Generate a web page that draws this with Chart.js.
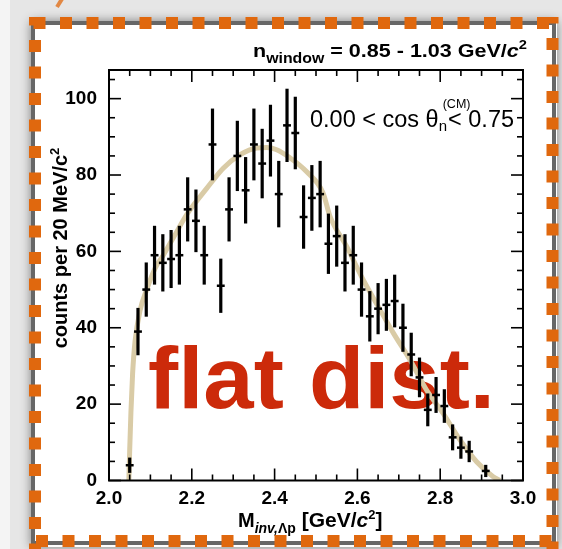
<!DOCTYPE html>
<html>
<head>
<meta charset="utf-8">
<script src="https://cdn.jsdelivr.net/npm/chart.js@4/dist/chart.umd.min.js"></script>
<style>
  html, body { margin: 0; padding: 0; background: #e8e8e8; overflow: hidden; }
  #wrap { position: relative; width: 562px; height: 549px; }
  canvas { display: block; }
</style>
</head>
<body>
<div id="wrap"><canvas id="chart" width="562" height="549"></canvas></div>
<script>
// Λp invariant-mass spectrum, 20 MeV/c^2 bins (bin centres in GeV/c^2)
const massBins = [2.05, 2.07, 2.09, 2.11, 2.13, 2.15, 2.17, 2.19, 2.21, 2.23,
                  2.25, 2.27, 2.29, 2.31, 2.33, 2.35, 2.37, 2.39, 2.41, 2.43,
                  2.45, 2.47, 2.49, 2.51, 2.53, 2.55, 2.57, 2.59, 2.61, 2.63,
                  2.65, 2.67, 2.69, 2.71, 2.73, 2.75, 2.77, 2.79, 2.81, 2.83,
                  2.85, 2.87, 2.91];
const counts = [4, 39, 50, 59, 57, 58, 59, 71, 68, 59,
                88, 51, 71, 85, 76, 88, 83, 89, 75, 93,
                91, 69, 74, 75, 62, 64, 57, 59, 50, 43,
                45, 46, 47, 40, 33, 27, 18.5, 22.4, 19.5, 11.3,
                8.6, 7.6, 2.5];
const countErrors = [2.0, 6.2, 7.1, 7.7, 7.5, 7.6, 7.7, 8.4, 8.2, 7.7,
                     9.4, 7.1, 8.4, 9.2, 8.7, 9.4, 9.1, 9.4, 8.7, 9.6,
                     9.5, 8.3, 8.6, 8.7, 7.9, 8.0, 7.5, 7.7, 7.1, 6.6,
                     6.7, 6.8, 6.9, 6.3, 5.7, 5.2, 4.3, 4.7, 4.4, 3.4,
                     2.9, 2.8, 1.6];
const binHalfWidth = 0.0095;

// flat (phase-space) distribution
const phaseSpaceMass = [2.048, 2.050, 2.053, 2.057, 2.063, 2.075, 2.091, 2.111, 2.131, 2.155,
                        2.190, 2.236, 2.276, 2.316, 2.357, 2.381, 2.405, 2.437, 2.477, 2.517,
                        2.534, 2.574, 2.610, 2.650, 2.687, 2.727, 2.767, 2.807, 2.848, 2.888,
                        2.928, 2.944];
const phaseSpaceCounts = [0, 8, 18, 28, 36.5, 44.5, 50, 55.5, 59, 63.5,
                          70, 76.5, 81.8, 85.3, 87.1, 87.2, 86.6, 84.5, 80.9, 75.3,
                          69.1, 61.3, 53.4, 45.6, 38.6, 31.6, 23.7, 17.6, 10.6, 4.9,
                          1.0, 0];

const xTickValues = [2.0, 2.2, 2.4, 2.6, 2.8, 3.0];
const xTickLabels = ['2.0', '2.2', '2.4', '2.6', '2.8', '3.0'];
const yTickValues = [0, 20, 40, 60, 80, 100];
const yTickLabels = ['0', '20', '40', '60', '80', '100'];
const xRange = [2.0, 3.0];
const yRange = [0, 107.5];
const xMinorStep = 0.05;
const yMinorStep = 5;

const FONT = '"Liberation Sans", Arial, Helvetica, sans-serif';
const ORANGE = '#e0680e';

// draws a run of text pieces (each with its own font / vertical shift)
function richWidth(ctx, parts) {
  let w = 0;
  for (const p of parts) {
    ctx.font = p.font;
    w += ctx.measureText(p.t).width;
  }
  return w;
}
function drawRich(ctx, parts, x, y) {
  let cx = x;
  for (const p of parts) {
    ctx.font = p.font;
    ctx.fillText(p.t, cx, y + (p.dy || 0));
    cx += ctx.measureText(p.t).width;
  }
  return cx;
}
function seg(ctx, x1, y1, x2, y2) {
  ctx.beginPath(); ctx.moveTo(x1, y1); ctx.lineTo(x2, y2); ctx.stroke();
}

const slidePlugin = {
  id: 'slide',
  beforeDraw(chart) {
    const ctx = chart.ctx, W = chart.width, H = chart.height;
    ctx.save();
    ctx.fillStyle = '#e6e6e6';
    ctx.fillRect(0, 0, W, H);
    ctx.fillStyle = '#f4f4f4';
    ctx.fillRect(0, 0, 10, H);
    // white panel with soft shadow
    ctx.shadowColor = 'rgba(0,0,0,0.45)';
    ctx.shadowBlur = 10;
    ctx.fillStyle = '#ffffff';
    ctx.fillRect(31, 21, 526, 526);
    ctx.shadowColor = 'transparent';
    ctx.shadowBlur = 0;
    ctx.strokeStyle = '#676767';
    ctx.lineWidth = 4;
    ctx.strokeRect(33, 23, 521, 520);
    // small stroke peeking in at the top
    ctx.strokeStyle = 'rgba(224,104,14,0.75)';
    ctx.lineWidth = 4;
    seg(ctx, 62, -1, 57, 7);
    ctx.restore();
  },
  beforeDatasetsDraw(chart) {
    const ctx = chart.ctx;
    ctx.save();
    ctx.fillStyle = '#cc2a0a';
    ctx.font = 'bold 88px ' + FONT;
    const txt = 'flat dist.';
    const w = ctx.measureText(txt).width;
    const target = 347;
    ctx.translate(321.5, 408);
    ctx.scale(target / w, 1);
    ctx.textAlign = 'center';
    ctx.textBaseline = 'alphabetic';
    ctx.fillText(txt, 0, 0);
    ctx.restore();
  },
  afterDatasetsDraw(chart) {
    // error bars for the measured spectrum
    const ctx = chart.ctx;
    const xs = chart.scales.x, ys = chart.scales.y;
    const meta = chart.getDatasetMeta(1);
    ctx.save();
    ctx.strokeStyle = '#000';
    ctx.lineCap = 'butt';
    meta.data.forEach((pt, i) => {
      const v = counts[i], e = countErrors[i];
      const top = ys.getPixelForValue(v + e);
      const bot = ys.getPixelForValue(Math.max(0, v - e));
      ctx.lineWidth = 3.2;
      seg(ctx, pt.x, top, pt.x, bot);
      ctx.lineWidth = 2.5;
      seg(ctx, xs.getPixelForValue(massBins[i] - binHalfWidth), pt.y,
               xs.getPixelForValue(massBins[i] + binHalfWidth), pt.y);
    });
    ctx.restore();
  },
  afterDraw(chart) {
    const ctx = chart.ctx;
    const a = chart.chartArea;
    const xs = chart.scales.x, ys = chart.scales.y;
    ctx.save();
    // frame
    ctx.strokeStyle = '#000';
    ctx.lineWidth = 2;
    ctx.strokeRect(a.left, a.top, a.right - a.left, a.bottom - a.top);
    // inward ticks on all four sides
    ctx.lineWidth = 1.6;
    const nx = Math.round((xRange[1] - xRange[0]) / xMinorStep);
    for (let k = 0; k <= nx; k++) {
      const v = xRange[0] + k * xMinorStep;
      const major = xTickValues.some(t => Math.abs(t - v) < 1e-6);
      const len = major ? 12 : 6;
      const px = xs.getPixelForValue(v);
      seg(ctx, px, a.bottom, px, a.bottom - len);
      seg(ctx, px, a.top, px, a.top + len);
    }
    const ny = Math.floor((yRange[1] - yRange[0]) / yMinorStep);
    for (let k = 0; k <= ny; k++) {
      const v = yRange[0] + k * yMinorStep;
      const major = yTickValues.some(t => Math.abs(t - v) < 1e-6);
      const len = major ? 12 : 6;
      const py = ys.getPixelForValue(v);
      seg(ctx, a.left, py, a.left + len, py);
      seg(ctx, a.right, py, a.right - len, py);
    }

    ctx.fillStyle = '#000';
    ctx.textBaseline = 'alphabetic';
    ctx.textAlign = 'left';

    // neutron window label above the frame
    const topParts = [
      { t: 'n', font: 'bold 19px ' + FONT },
      { t: 'window', font: 'bold 14px ' + FONT, dy: 6 },
      { t: ' = 0.85 - 1.03 GeV/', font: 'bold 19px ' + FONT },
      { t: 'c', font: 'italic bold 19px ' + FONT },
      { t: '2', font: 'bold 13px ' + FONT, dy: -8 }
    ];
    const tw = richWidth(ctx, topParts);
    ctx.save();
    ctx.translate(253, 57);
    ctx.scale(274 / tw, 1);
    drawRich(ctx, topParts, 0, 0);
    ctx.restore();

    // angular cut label inside the frame
    const x0 = 310, y0 = 127;
    let cx = drawRich(ctx, [{ t: '0.00 < cos \u03B8', font: '23.5px ' + FONT }], x0, y0);
    ctx.font = '15px ' + FONT;
    ctx.fillText('n', cx, y0 + 4);
    ctx.font = '12.5px ' + FONT;
    ctx.fillText('(CM)', cx + 4, y0 - 19);
    ctx.font = '15px ' + FONT;
    cx += ctx.measureText('n').width + 1;
    drawRich(ctx, [{ t: '< 0.75', font: '23.5px ' + FONT }], cx, y0);

    // y-axis title
    const yParts = [
      { t: 'counts per 20 MeV/c', font: 'bold 20px ' + FONT },
      { t: '2', font: 'bold 13px ' + FONT, dy: -8 }
    ];
    const yw = richWidth(ctx, yParts);
    ctx.save();
    ctx.translate(67, 248 + yw / 2);
    ctx.rotate(-Math.PI / 2);
    drawRich(ctx, yParts, 0, 0);
    ctx.restore();

    // x-axis title
    const xParts = [
      { t: 'M', font: 'bold 20px ' + FONT },
      { t: 'inv,', font: 'italic bold 14px ' + FONT, dy: 6 },
      { t: '\u039Bp', font: 'bold 14px ' + FONT, dy: 6 },
      { t: ' [GeV/', font: 'bold 21px ' + FONT },
      { t: 'c', font: 'italic bold 21px ' + FONT },
      { t: '2', font: 'bold 13px ' + FONT, dy: -8 },
      { t: ']', font: 'bold 21px ' + FONT }
    ];
    drawRich(ctx, xParts, 238, 527);

    // dashed orange border on top of everything
    ctx.strokeStyle = ORANGE;
    ctx.lineWidth = 12;
    ctx.lineCap = 'butt';
    ctx.setLineDash([12, 14.5]);
    ctx.lineDashOffset = 0;
    seg(ctx, 33.5, 23, 562, 23);
    ctx.lineDashOffset = 3.5;
    seg(ctx, 35, 17, 35, 549);
    ctx.lineDashOffset = 0;
    seg(ctx, 36, 541, 562, 541);
    ctx.lineDashOffset = 5.5;
    seg(ctx, 552.5, 17, 552.5, 549);
    ctx.restore();
  }
};

const tickFont = { family: FONT, size: 19, weight: 'bold' };

new Chart(document.getElementById('chart'), {
  type: 'scatter',
  data: {
    datasets: [
      {
        type: 'line',
        label: 'flat distribution',
        data: phaseSpaceMass.map((m, i) => ({ x: m, y: phaseSpaceCounts[i] })),
        borderColor: '#d9cba6',
        borderWidth: 5,
        pointRadius: 0,
        cubicInterpolationMode: 'monotone',
        fill: false
      },
      {
        label: 'data',
        data: massBins.map((m, i) => ({ x: m, y: counts[i] })),
        pointRadius: 0,
        showLine: false
      }
    ]
  },
  options: {
    responsive: false,
    animation: false,
    events: [],
    layout: { padding: { left: 0, right: 39, top: 70, bottom: 0 } },
    plugins: { legend: { display: false }, tooltip: { enabled: false } },
    scales: {
      x: {
        type: 'linear',
        min: xRange[0], max: xRange[1],
        grid: { display: false },
        border: { display: false },
        afterBuildTicks: s => { s.ticks = xTickValues.map(v => ({ value: v })); },
        afterFit: s => { s.height = 68.5; },
        ticks: {
          autoSkip: false, maxRotation: 0, padding: -1,
          color: '#000', font: tickFont,
          callback: (v, i) => xTickLabels[i]
        }
      },
      y: {
        type: 'linear',
        min: yRange[0], max: yRange[1],
        grid: { display: false },
        border: { display: false },
        afterBuildTicks: s => { s.ticks = yTickValues.map(v => ({ value: v })); },
        afterFit: s => { s.width = 109; },
        ticks: {
          autoSkip: false, padding: 4,
          color: '#000', font: tickFont,
          callback: (v, i) => yTickLabels[i]
        }
      }
    }
  },
  plugins: [slidePlugin]
});
</script>
</body>
</html>
